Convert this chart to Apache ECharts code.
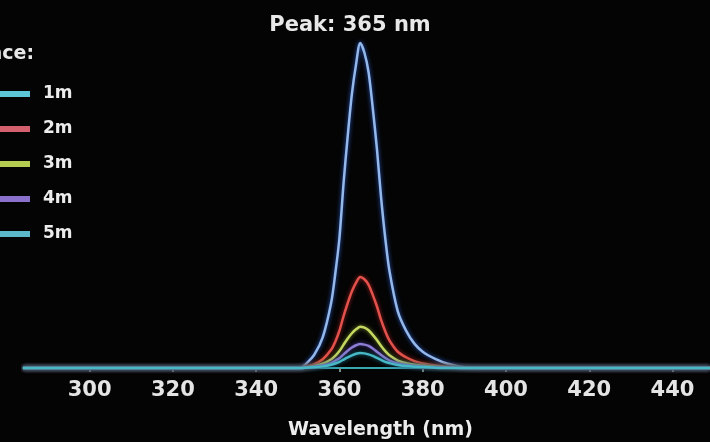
<!DOCTYPE html>
<html>
<head>
<meta charset="utf-8">
<script src="https://cdn.jsdelivr.net/npm/echarts@6/dist/echarts.min.js"></script>
<style>
html,body{margin:0;padding:0;background:#040404;}
#chart{width:710px;height:442px;}
</style>
</head>
<body>
<div id="chart"></div>
<script>
const wavelengths = [284, 348, 350, 351, 352, 354, 356, 358, 359, 360, 361, 362, 363, 364, 365, 366, 367, 368, 369, 370, 371, 372, 374, 376, 378, 380, 383, 386, 390, 394, 449];
const d1m = [0, 0, 0, 0.3, 1.3, 4.2, 9.5, 20, 29, 40, 57, 71.5, 84.4, 93.5, 100, 97, 91, 80, 67.5, 52.5, 40, 30, 17.5, 11.5, 7.5, 5, 2.8, 1.3, 0.2, 0, 0];
const d2m = [0, 0, 0, 0.1, 0.4, 1.2, 2.7, 5.6, 8.1, 11.5, 16, 20, 23.6, 26.3, 28, 27.3, 25.6, 22.5, 19, 14.8, 11.3, 8.5, 5, 3.3, 2.1, 1.4, 0.8, 0.4, 0.1, 0, 0];
const d3m = [0, 0, 0, 0, 0.2, 0.6, 1.3, 2.6, 3.7, 5.2, 7.2, 9.1, 10.7, 11.9, 12.7, 12.4, 11.6, 10.2, 8.6, 6.8, 5.2, 3.9, 2.3, 1.5, 1, 0.7, 0.4, 0.2, 0, 0, 0];
const d4m = [0, 0, 0, 0, 0.1, 0.4, 0.8, 1.5, 2.2, 3, 4.2, 5.3, 6.3, 7, 7.4, 7.2, 6.8, 6, 5, 4, 3.1, 2.3, 1.4, 0.9, 0.6, 0.4, 0.2, 0.1, 0, 0, 0];
const d5m = [0, 0, 0, 0, 0.1, 0.2, 0.5, 1, 1.4, 1.9, 2.6, 3.3, 3.9, 4.4, 4.6, 4.5, 4.2, 3.7, 3.1, 2.5, 1.9, 1.5, 0.9, 0.6, 0.4, 0.3, 0.1, 0, 0, 0, 0];
const seriesNames = ['1m', '2m', '3m', '4m', '5m'];
const seriesData = [d1m, d2m, d3m, d4m, d5m];
const lineColors = ['#94b8ea', '#e2524c', '#c4d862', '#8c7cd2', '#46b8c6'];
const legendColors = ['#5cc6d6', '#d4606e', '#b4cc50', '#8a72cc', '#5ab8c8'];
const glowColors = ['#2a5cc8', '#a02020', '#708020', '#4a3a90', '#1a7080'];
const tickValues = [300, 320, 340, 360, 380, 400, 420, 440];
const peakLabel = 'Peak: 365 nm';
const legendTitle = 'Distance:';
const xTitle = 'Wavelength (nm)';

const FONT = 'DejaVu Sans';
const chart = echarts.init(document.getElementById('chart'));
chart.setOption({
  backgroundColor: '#040404',
  animation: false,
  textStyle: { fontFamily: FONT },
  title: {
    text: peakLabel,
    left: 345, top: 10,
    textAlign: 'center',
    textStyle: { color: '#e8e8e8', fontSize: 21, fontWeight: 'bold', fontFamily: FONT }
  },
  graphic: [{
    type: 'text',
    x: 34, y: 45,
    style: { text: legendTitle, fill: '#e8e8e8', font: 'bold 19px "DejaVu Sans"', textAlign: 'right' }
  }],
  legend: {
    orient: 'vertical',
    left: -6, top: 79,
    icon: 'rect',
    itemWidth: 31, itemHeight: 6,
    itemGap: 15,
    textStyle: { color: '#ececec', fontSize: 17, fontWeight: 'bold', lineHeight: 20, padding: [0, 0, 0, 8], fontFamily: FONT },
    data: seriesNames.map((n, i) => ({ name: n, itemStyle: { color: legendColors[i] } }))
  },
  grid: { left: 23, right: 0, top: 43, bottom: 74, containLabel: false, outerBoundsMode: 'none' },
  xAxis: {
    type: 'value',
    min: 284, max: 449,
    name: xTitle,
    nameLocation: 'middle',
    nameGap: 53,
    nameTextStyle: { color: '#ececec', fontSize: 19, fontWeight: 'bold', padding: [0, 0, 0, 28], fontFamily: FONT },
    axisLine: { show: true, lineStyle: { color: '#3aa8b0', width: 2 } },
    axisTick: { show: true, length: 4, lineStyle: { color: '#7a8a8a', width: 2 }, customValues: tickValues },
    axisLabel: { color: '#e4e4e4', fontSize: 21, fontWeight: 'bold', margin: 12, customValues: tickValues, fontFamily: FONT },
    splitLine: { show: false }
  },
  yAxis: {
    type: 'value', min: 0, max: 100,
    show: false,
    splitLine: { show: false }
  },
  series: seriesNames.map((n, i) => ({
    name: n,
    type: 'line',
    data: wavelengths.map((w, j) => [w, seriesData[i][j]]),
    smooth: 0.3,
    showSymbol: false,
    symbol: 'none',
    clip: false,
    color: legendColors[i],
    lineStyle: { color: lineColors[i], width: 2.5, shadowColor: glowColors[i], shadowBlur: 4 }
  }))
});
</script>
</body>
</html>
